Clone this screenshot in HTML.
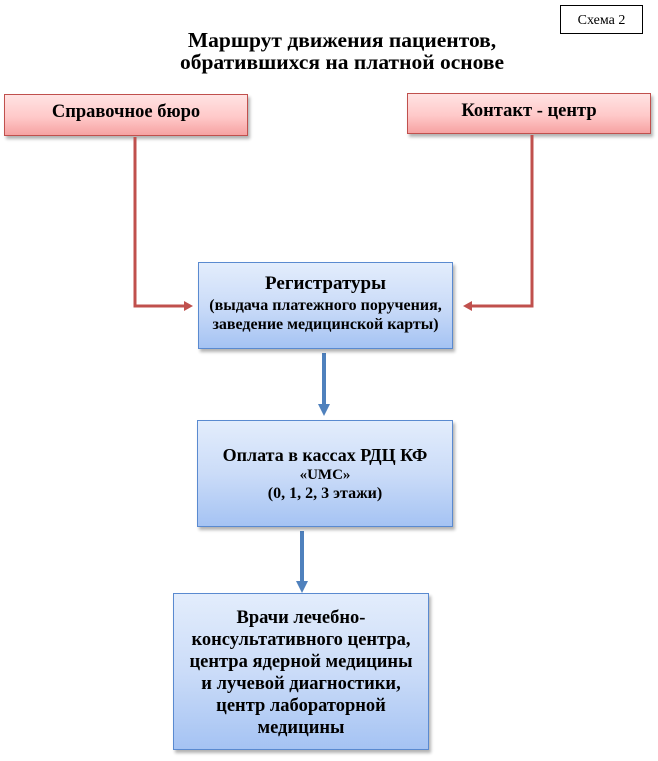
<!DOCTYPE html>
<html><head><meta charset="utf-8">
<style>
html,body{margin:0;padding:0;background:#fff;}
body{width:658px;height:761px;position:relative;overflow:hidden;font-family:"Liberation Serif","DejaVu Serif",serif;color:#000;}
.abs{position:absolute;}
.schema{left:560px;top:5px;width:83px;height:29px;border:1px solid #000;font-size:14px;line-height:29px;text-align:center;box-sizing:border-box;}
.title{left:90px;width:504px;top:29px;text-align:center;font-weight:bold;font-size:21.5px;line-height:22px;}
.red{border:1px solid #c0504d;background:linear-gradient(#ffe3e3,#ffc9c9 55%,#f6a2a2);box-shadow:2px 3px 3px rgba(0,0,0,0.3);font-weight:bold;font-size:18.5px;text-align:center;box-sizing:border-box;}
.blue{border:1px solid #5a8ad0;background:linear-gradient(#e3edfc,#cbdcf8 50%,#a5c3f3);box-shadow:2px 3px 3px rgba(0,0,0,0.3);font-weight:bold;text-align:center;box-sizing:border-box;}
</style></head><body>
<div class="abs schema">Схема 2</div>
<div class="abs title">Маршрут движения пациентов,<br>обратившихся на платной основе</div>

<div class="abs red" style="left:4px;top:94px;width:244px;height:42px;line-height:34px;">Справочное бюро</div>
<div class="abs red" style="left:407px;top:93px;width:244px;height:41px;line-height:34px;">Контакт - центр</div>

<svg class="abs" style="left:0;top:0" width="658" height="761">
  <g fill="none" stroke="#c0504d" stroke-width="3">
    <path d="M135 137 V306 H185"/>
    <path d="M532 135 V306 H470"/>
  </g>
  <polygon points="193,306 184,301 184,311" fill="#c0504d"/>
  <polygon points="463,306 472,301 472,311" fill="#c0504d"/>
  <g stroke="#4f81bd" stroke-width="4">
    <line x1="324" y1="353" x2="324" y2="406"/>
    <line x1="302" y1="531" x2="302" y2="583"/>
  </g>
  <polygon points="318,404 330,404 324,416" fill="#4f81bd"/>
  <polygon points="296,581 308,581 302,593" fill="#4f81bd"/>
</svg>

<div class="abs blue" style="left:198px;top:262px;width:255px;height:87px;padding-top:9px;">
  <div style="font-size:19px;line-height:24px;">Регистратуры</div>
  <div style="font-size:16px;line-height:19px;white-space:nowrap;">(выдача платежного поручения,<br>заведение медицинской карты)</div>
</div>

<div class="abs blue" style="left:197px;top:420px;width:256px;height:107px;padding-top:24px;">
  <div style="font-size:18px;line-height:21px;white-space:nowrap;">Оплата в кассах РДЦ КФ</div>
  <div style="font-size:15px;line-height:18px;">«UMC»</div>
  <div style="font-size:16px;line-height:19px;">(0, 1, 2, 3 этажи)</div>
</div>

<div class="abs blue" style="left:173px;top:593px;width:256px;height:157px;padding-top:13px;font-size:18.5px;line-height:22px;white-space:nowrap;">
  Врачи лечебно-<br>консультативного центра,<br>центра ядерной медицины<br>и лучевой диагностики,<br>центр лабораторной<br>медицины
</div>
</body></html>
